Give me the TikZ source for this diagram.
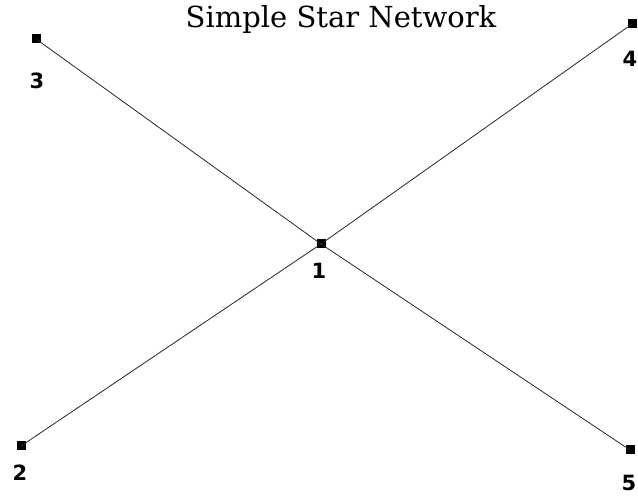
\documentclass[tikz,border=0pt]{standalone}
\usepackage{fontspec}
\setmainfont{DejaVu Serif}
\newfontfamily\labelfont{DejaVu Sans}
\begin{document}
\begin{tikzpicture}[x=1pt,y=1pt,
  hub/.style={fill=black,draw=none,minimum size=9pt,inner sep=0pt},
  lbl/.style={font=\labelfont\bfseries\fontsize{21}{21}\selectfont,inner sep=0pt},
  link/.style={draw=black!85,line width=0.8pt}]
\useasboundingbox (0,0) rectangle (638,497);
\node[font=\fontsize{29}{29}\selectfont,inner sep=0pt] (title) at (341,477) {Simple Star Network};
\node[hub] (n1) at (321,253) {};
\node[hub] (n2) at (21,51) {};
\node[hub] (n3) at (36,458) {};
\node[hub] (n4) at (632,473) {};
\node[hub] (n5) at (630,47) {};
\node[lbl] (l1) at (319,226) {1};
\node[lbl] (l2) at (20,24) {2};
\node[lbl] (l3) at (37,416) {3};
\node[lbl] (l4) at (630,438) {4};
\node[lbl] (l5) at (629,14) {5};
\draw[link] (n1.center) -- (n2.center);
\draw[link] (n1.center) -- (n3.center);
\draw[link] (n1.center) -- (n4.center);
\draw[link] (n1.center) -- (n5.center);
\end{tikzpicture}
\end{document}
